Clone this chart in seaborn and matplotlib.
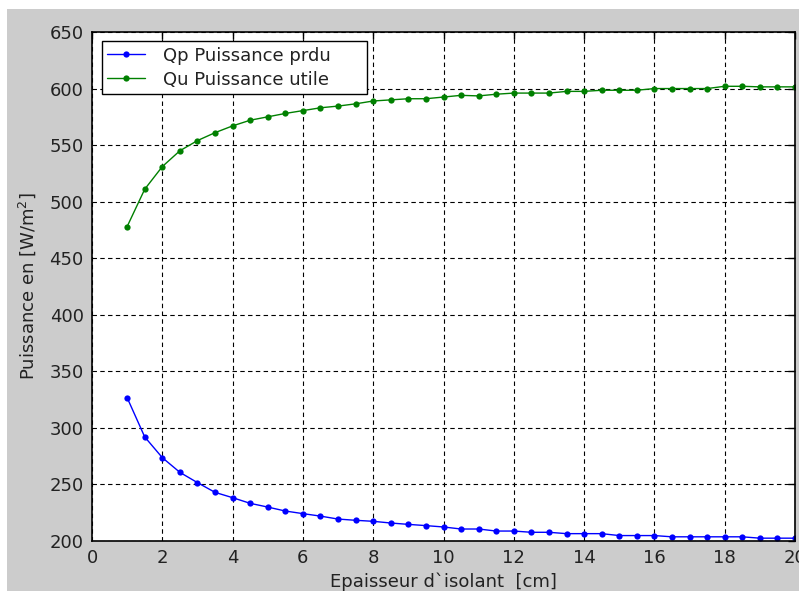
import numpy as np
import pandas as pd
import matplotlib
matplotlib.use("Agg")
import matplotlib.pyplot as plt
from matplotlib.patches import Rectangle
import seaborn as sns

# Insulation thickness (cm)
epaisseur = [1, 1.5, 2, 2.5, 3, 3.5, 4, 4.5, 5, 5.5, 6, 6.5, 7, 7.5, 8, 8.5, 9, 9.5,
             10, 10.5, 11, 11.5, 12, 12.5, 13, 13.5, 14, 14.5, 15, 15.5, 16, 16.5,
             17, 17.5, 18, 18.5, 19, 19.5, 20]

# Lost power Qp (W/m2)
qp = [326.7, 292, 273.7, 260.7, 251.6, 243, 238.3, 233.3, 230, 226.5, 224.2, 222,
      219.4, 218.3, 217.4, 215.9, 214.7, 213.6, 212.4, 210.6, 210.6, 208.8, 208.8,
      207.7, 207.7, 206.5, 206.5, 206.5, 204.8, 204.8, 204.8, 203.7, 203.7, 203.7,
      203.7, 203.7, 202.5, 202.5, 202.5]

# Useful power Qu (W/m2)
qu = [478, 511, 531, 545, 554, 561, 567, 572, 575, 578, 580.5, 583, 584.5, 586.5,
      589, 590, 591, 591, 592.5, 594, 593.5, 595, 596, 596, 596, 597.5, 597.5,
      598.5, 598.5, 598.5, 600, 600, 600, 600, 602, 602, 601.5, 601.5, 601.5]

labels = ["Qp Puissance prdu", "Qu Puissance utile"]
colors = ["#0000ff", "#008000"]

x_ticks = list(range(0, 21, 2))
y_ticks = list(range(200, 651, 50))

df = pd.DataFrame({
    "x": epaisseur * 2,
    "y": qp + qu,
    "serie": [labels[0]] * len(qp) + [labels[1]] * len(qu),
})

sns.set_theme(style="white")
plt.rcParams["font.family"] = ["DejaVu Sans"]

fig = plt.figure(figsize=(7.99, 5.91), dpi=100, facecolor="white")
# grey window background with thin white margin on top and left
fig.patches.append(Rectangle((7 / 799, 0), 1, (591 - 9) / 591,
                             transform=fig.transFigure, facecolor="#cccccc",
                             edgecolor="none", zorder=-10))

ax = fig.add_axes([92 / 799, 50 / 591, 703 / 799, 509 / 591])
ax.set_facecolor("white")

sns.lineplot(data=df, x="x", y="y", hue="serie", palette=colors,
             marker="o", markersize=4.5, markeredgewidth=0, linewidth=1.0,
             ax=ax, legend=False)

ax.set_xlim(0, 20)
ax.set_ylim(200, 650)
ax.set_xticks(x_ticks)
ax.set_yticks(y_ticks)
ax.tick_params(direction="in", length=5, width=1, top=True, right=True,
               labelsize=13, colors="black", labelcolor="#222222", pad=6)
for s in ax.spines.values():
    s.set_color("black")
    s.set_linewidth(1.2)

ax.grid(True, color="black", linestyle=(0, (4, 3)), linewidth=0.8)

ax.set_xlabel("Epaisseur d`isolant  [cm]", fontsize=13, labelpad=4, color="#222222")
ax.set_ylabel("Puissance en [W/m$^2$]", fontsize=13, labelpad=8, color="#222222")

handles = [plt.Line2D([], [], color=c, marker="o", markersize=4.5,
                      markeredgewidth=0, linewidth=1.0) for c in colors]
leg_w = 265 / 703
leg_h = 55 / 509
leg = ax.legend(handles, labels, loc="upper left",
                bbox_to_anchor=(0.014, 0.982 - leg_h, leg_w, leg_h), mode="expand",
                borderaxespad=0, fontsize=13, frameon=True, fancybox=False,
                framealpha=1, edgecolor="black", handlelength=2.1,
                labelspacing=0.33, borderpad=0.3, handletextpad=1.0,
                labelcolor="#222222")
leg.get_frame().set_linewidth(1.0)

fig.savefig("out.png", dpi=100, facecolor=fig.get_facecolor())
